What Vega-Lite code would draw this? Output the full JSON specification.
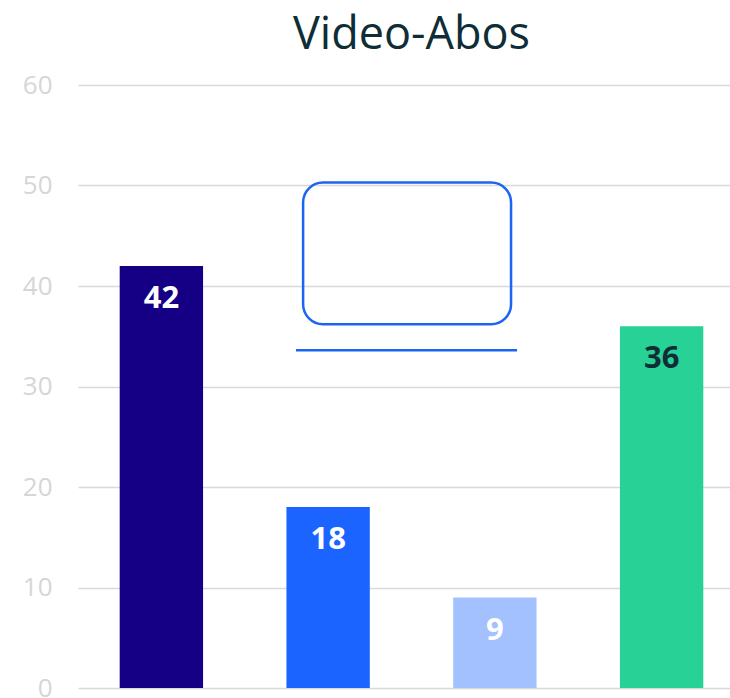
{
  "$schema": "https://vega.github.io/schema/vega-lite/v6.json",
  "autosize": "none",
  "padding": {"left": 78, "top": 85, "right": 0, "bottom": 10},
  "width": 667,
  "height": 603,
  "background": "white",
  "config": {
    "view": {"stroke": null},
    "font": "Open Sans",
    "axisY": {"title": null, "domain": false, "ticks": false, "labelFontSize": 26, "labelColor": "#d6d6d6", "labelFont": "Open Sans", "labelPadding": 26, "gridColor": "#d9d9d9", "gridWidth": 1.5, "labelOverlap": false, "labelBound": false}
  },
  "title": {"text": "Video-Abos", "fontSize": 45, "font": "Open Sans", "fontWeight": "normal", "color": "#0f2d36", "anchor": "middle", "offset": 14},
  "datasets": {
    "bars": [
      {"cat": "1", "value": 42},
      {"cat": "2", "value": 18},
      {"cat": "3", "value": 9},
      {"cat": "4", "value": 36}
    ],
    "box": [{"x0": 1.35, "x1": 2.597, "y0": 36.2, "y1": 50.3}],
    "line": [{"x0": 1.307, "x1": 2.633, "y": 33.6}]
  },
  "layer": [
    {
      "data": {"name": "bars"},
      "mark": {"type": "bar"},
      "encoding": {
        "x": {"field": "cat", "type": "nominal", "sort": null, "axis": null, "scale": {"paddingInner": 0.5, "paddingOuter": 0.25}},
        "y": {"field": "value", "type": "quantitative", "scale": {"domain": [0, 60], "nice": false},
          "axis": {"values": [0, 10, 20, 30, 40, 50, 60], "labelOverlap": false}},
        "color": {"field": "cat", "type": "nominal", "legend": null, "scale": {"domain": ["1", "2", "3", "4"], "range": ["#150085", "#1c64ff", "#a3c1ff", "#28d195"]}}
      }
    },
    {
      "data": {"name": "bars"},
      "mark": {"type": "text", "baseline": "top", "dy": 18, "fontSize": 31, "fontWeight": "bold", "font": "Open Sans"},
      "encoding": {
        "x": {"field": "cat", "type": "nominal", "sort": null, "axis": null},
        "y": {"field": "value", "type": "quantitative", "axis": {"values": [0, 10, 20, 30, 40, 50, 60], "labelOverlap": false}},
        "text": {"field": "value", "type": "quantitative"},
        "color": {"condition": {"test": "datum.cat === '4'", "value": "#0f2d36"}, "value": "white"}
      }
    },
    {
      "data": {"name": "box"},
      "mark": {"type": "rect", "filled": false, "stroke": "#1c64f2", "strokeWidth": 2.5, "cornerRadius": 20},
      "encoding": {
        "x": {"field": "x0", "type": "quantitative", "scale": {"domain": [0, 4], "nice": false, "zero": false}, "axis": null},
        "x2": {"field": "x1"},
        "y": {"field": "y0", "type": "quantitative"},
        "y2": {"field": "y1"}
      }
    },
    {
      "data": {"name": "line"},
      "mark": {"type": "rule", "stroke": "#1c64f2", "strokeWidth": 2.5},
      "encoding": {
        "x": {"field": "x0", "type": "quantitative", "scale": {"domain": [0, 4], "nice": false, "zero": false}, "axis": null},
        "x2": {"field": "x1"},
        "y": {"field": "y", "type": "quantitative"}
      }
    }
  ],
  "resolve": {"scale": {"x": "independent", "color": "independent"}}
}
